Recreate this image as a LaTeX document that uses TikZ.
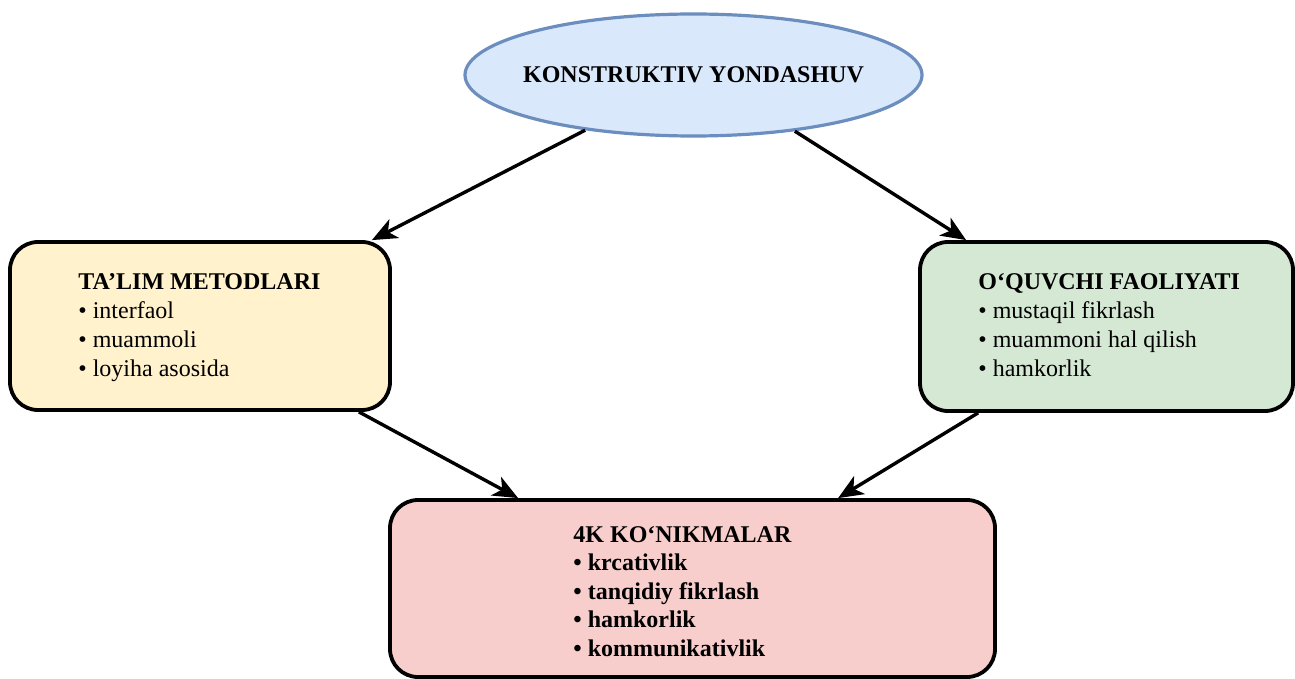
\documentclass[tikz,border=0pt]{standalone}
\usepackage{fontspec}
\setmainfont{Liberation Serif}
\usetikzlibrary{arrows.meta,calc,shapes.geometric}
\definecolor{ellfill}{HTML}{DAE8FC}
\definecolor{ellline}{HTML}{6C8EBF}
\definecolor{yel}{HTML}{FFF2CC}
\definecolor{grn}{HTML}{D5E8D4}
\definecolor{red}{HTML}{F8CECC}
\tikzset{
  box/.style={draw=black,line width=1.9pt,rounded corners=14pt,inner sep=0pt},
  txt/.style={anchor=north west,inner sep=0pt,align=left,font=\fontsize{12}{14.5}\selectfont},
  arr/.style={line width=1.7pt,-{Stealth[length=12.5pt,width=10.5pt,inset=3.5pt]}}
}
\begin{document}
\begin{tikzpicture}[x=0.5pt,y=-0.5pt]
\useasboundingbox (0,0) rectangle (1295,679);
\node[ellipse,draw=ellline,fill=ellfill,line width=1.6pt,minimum width=228.5pt,minimum height=61pt,inner sep=0pt] (ell) at (693.5,75) {};
\node[inner sep=0pt,font=\fontsize{12}{14.5}\selectfont\bfseries] (elltxt) at (ell.center) {KONSTRUKTIV YONDASHUV};
\node[box,fill=yel,minimum width=190pt,minimum height=84pt] (lbox) at (200,326) {};
\node[box,fill=grn,minimum width=186.5pt,minimum height=84.5pt] (rbox) at (1106.5,326.5) {};
\node[box,fill=red,minimum width=302.5pt,minimum height=88.5pt] (bbox) at (692.5,588.5) {};
\node[txt] (ltxt) at (78,273) {\textbf{TA’LIM METODLARI}\\• interfaol\\• muammoli\\• loyiha asosida};
\node[txt] (rtxt) at (978,273) {\textbf{O‘QUVCHI FAOLIYATI}\\• mustaqil fikrlash\\• muammoni hal qilish\\• hamkorlik};
\node[txt,font=\fontsize{12}{14.25}\selectfont\bfseries] (btxt) at (573,526) {4K KO‘NIKMALAR\\• krcativlik\\• tanqidiy fikrlash\\• hamkorlik\\• kommunikativlik};
\draw[arr] (ell.207) -- ($(lbox.north east)+(-20,0)$);
\draw[arr] (ell.331) -- ($(rbox.north west)+(48,0)$);
\draw[arr] ($(lbox.south east)+(-33,0)$) -- ($(bbox.north west)+(130,0)$);
\draw[arr] ($(rbox.south west)+(60,0)$) -- ($(bbox.north west)+(450,0)$);
\end{tikzpicture}
\end{document}
